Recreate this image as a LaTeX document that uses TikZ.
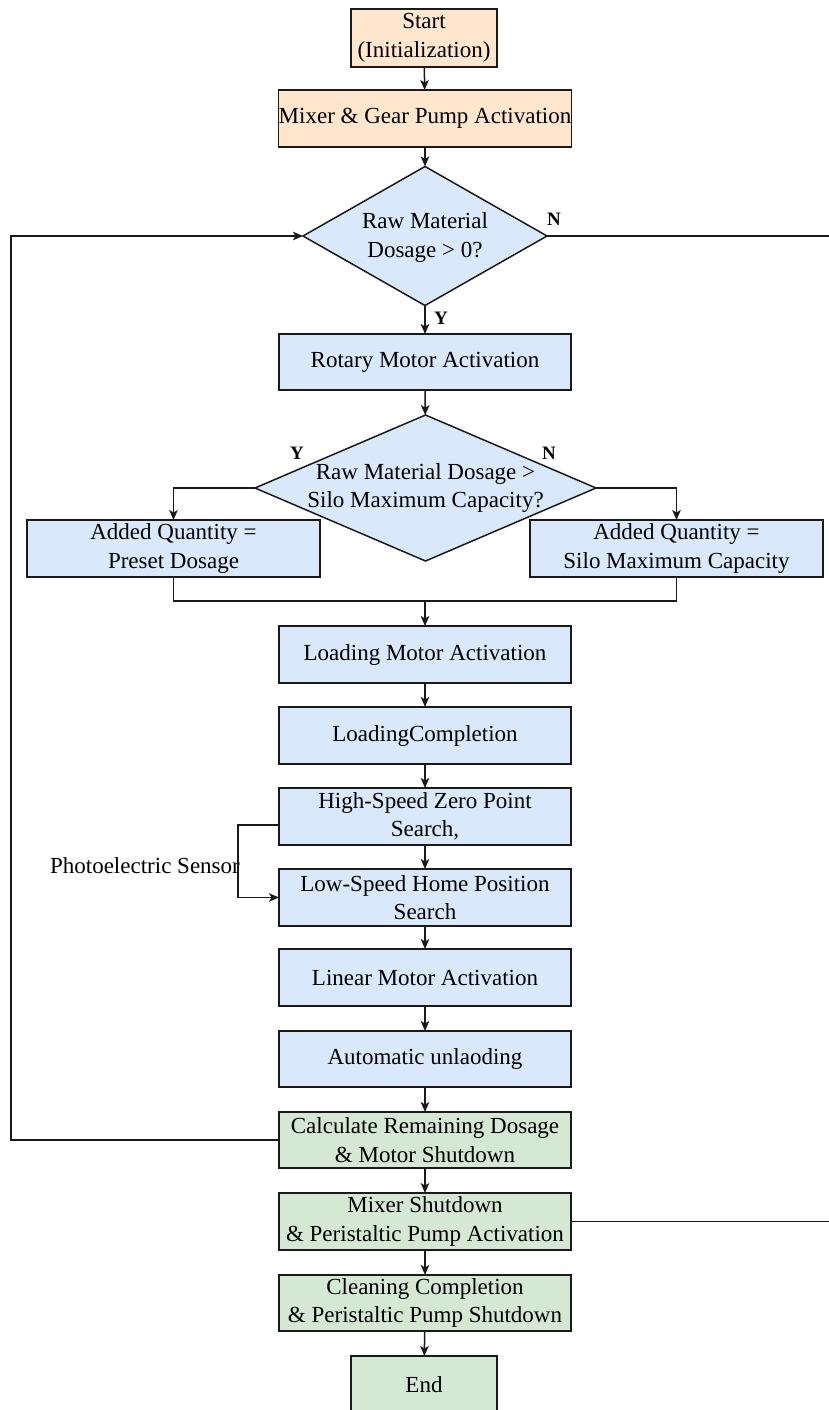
\documentclass[tikz,border=0pt]{standalone}
\usepackage{fontspec}
\setmainfont{Liberation Serif}
\usetikzlibrary{shapes.geometric,arrows.meta}
\definecolor{fillO}{HTML}{FFE6CC}
\definecolor{fillB}{HTML}{DAE8FC}
\definecolor{fillG}{HTML}{D5E8D4}
\definecolor{strk}{HTML}{1A1A1A}
\newcommand{\mainfs}{\fontsize{23}{28.5}\selectfont}
\newcommand{\lblfs}{\fontsize{19}{23}\selectfont\bfseries}
\tikzset{
  box/.style={draw=strk, line width=1.5pt, inner sep=0pt, outer sep=0pt,
    minimum width=292pt, minimum height=57pt, align=center, font=\mainfs},
  obox/.style={box, fill=fillO},
  bbox/.style={box, fill=fillB},
  gbox/.style={box, fill=fillG},
  dia/.style={diamond, draw=strk, fill=fillB, line width=1.5pt, inner sep=0pt, outer sep=0pt},
  txt/.style={inner sep=0pt, align=center, font=\mainfs},
  yn/.style={inner sep=0pt, font=\lblfs},
  ln/.style={draw=strk, line width=1.5pt},
  arr/.style={ln, -{Stealth[length=10pt,width=8.5pt,inset=2.5pt]}}
}
\begin{document}
\begin{tikzpicture}[x=1pt,y=-1pt]
\useasboundingbox (0,0) rectangle (829,1410);
% nodes
\node[obox, minimum width=146pt, minimum height=58pt] (start) at (424,38) {Start\\(Initialization)};
\node[obox] (mix) at (425,118.5) {Mixer \& Gear Pump Activation};
\node[dia, minimum width=244pt, minimum height=139pt] (d1) at (425,236) {};
\node[txt] (d1t) at (425,237.5) {Raw Material\\Dosage > 0?};
\node[bbox, minimum height=56pt] (rot) at (425,362) {Rotary Motor Activation};
\node[dia, minimum width=341pt, minimum height=146pt] (d2) at (425.5,488) {};
\node[txt] (d2t) at (425.5,488) {Raw Material Dosage >\\Silo Maximum Capacity?};
\node[bbox, minimum width=293pt] (pre) at (173.5,548.5) {Added Quantity =\\Preset Dosage};
\node[bbox, minimum width=293pt] (silo) at (676.5,548.5) {Added Quantity =\\Silo Maximum Capacity};
\node[bbox] (load) at (425,654.5) {Loading Motor Activation};
\node[bbox] (lc) at (425,735.5) {LoadingCompletion};
\node[bbox] (hs) at (425,816.5) {High-Speed Zero Point\\Search,};
\node[bbox] (ls) at (425,897.5) {Low-Speed Home Position\\Search};
\node[bbox] (lin) at (425,977.5) {Linear Motor Activation};
\node[bbox, minimum height=56pt] (unl) at (425,1059) {Automatic unlaoding};
\node[gbox, minimum height=56pt] (calc) at (425,1140) {Calculate Remaining Dosage\\\& Motor Shutdown};
\node[gbox] (msd) at (425,1221.5) {Mixer Shutdown\\\& Peristaltic Pump Activation};
\node[gbox, minimum height=56pt] (clean) at (425,1303) {Cleaning Completion\\\& Peristaltic Pump Shutdown};
\node[gbox, minimum width=146pt, minimum height=58pt] (end) at (424,1385) {End};
% labels
\node[yn] (n1) at (554,219) {N};
\node[yn] (y1) at (441,318) {Y};
\node[yn] (y2) at (297,453) {Y};
\node[yn] (n2) at (549,453) {N};
\node[txt, anchor=east] (pe) at (240,866) {Photoelectric Sensor};
% coordinates
\coordinate (m) at (425,601);
\coordinate (lp) at (11,1140);
\coordinate (rN) at (835,236);
\coordinate (rM) at (835,1221.5);
% connectors
\draw[arr] (start) -- (mix);
\draw[arr] (mix) -- (d1);
\draw[arr] (d1) -- (rot);
\draw[arr] (rot) -- (d2);
\draw[arr] (d2.west) -| (pre.north);
\draw[arr] (d2.east) -| (silo.north);
\draw[ln] (pre.south) |- (m) -| (silo.south);
\draw[arr] (m) -- (load);
\draw[arr] (load) -- (lc);
\draw[arr] (lc) -- (hs);
\draw[arr] (hs) -- (ls);
\draw[arr] ([yshift=-8.5pt]hs.west) -- ++(-41,0) |- (ls.west);
\draw[arr] (ls) -- (lin);
\draw[arr] (lin) -- (unl);
\draw[arr] (unl) -- (calc);
\draw[arr] (calc.west) -- (lp) |- (d1.west);
\draw[arr] (calc) -- (msd);
\draw[arr] (msd) -- (clean);
\draw[arr] (clean) -- (end);
\draw[ln] (d1.east) -- (rN);
\draw[ln] (msd.east) -- (rM);
\end{tikzpicture}
\end{document}
